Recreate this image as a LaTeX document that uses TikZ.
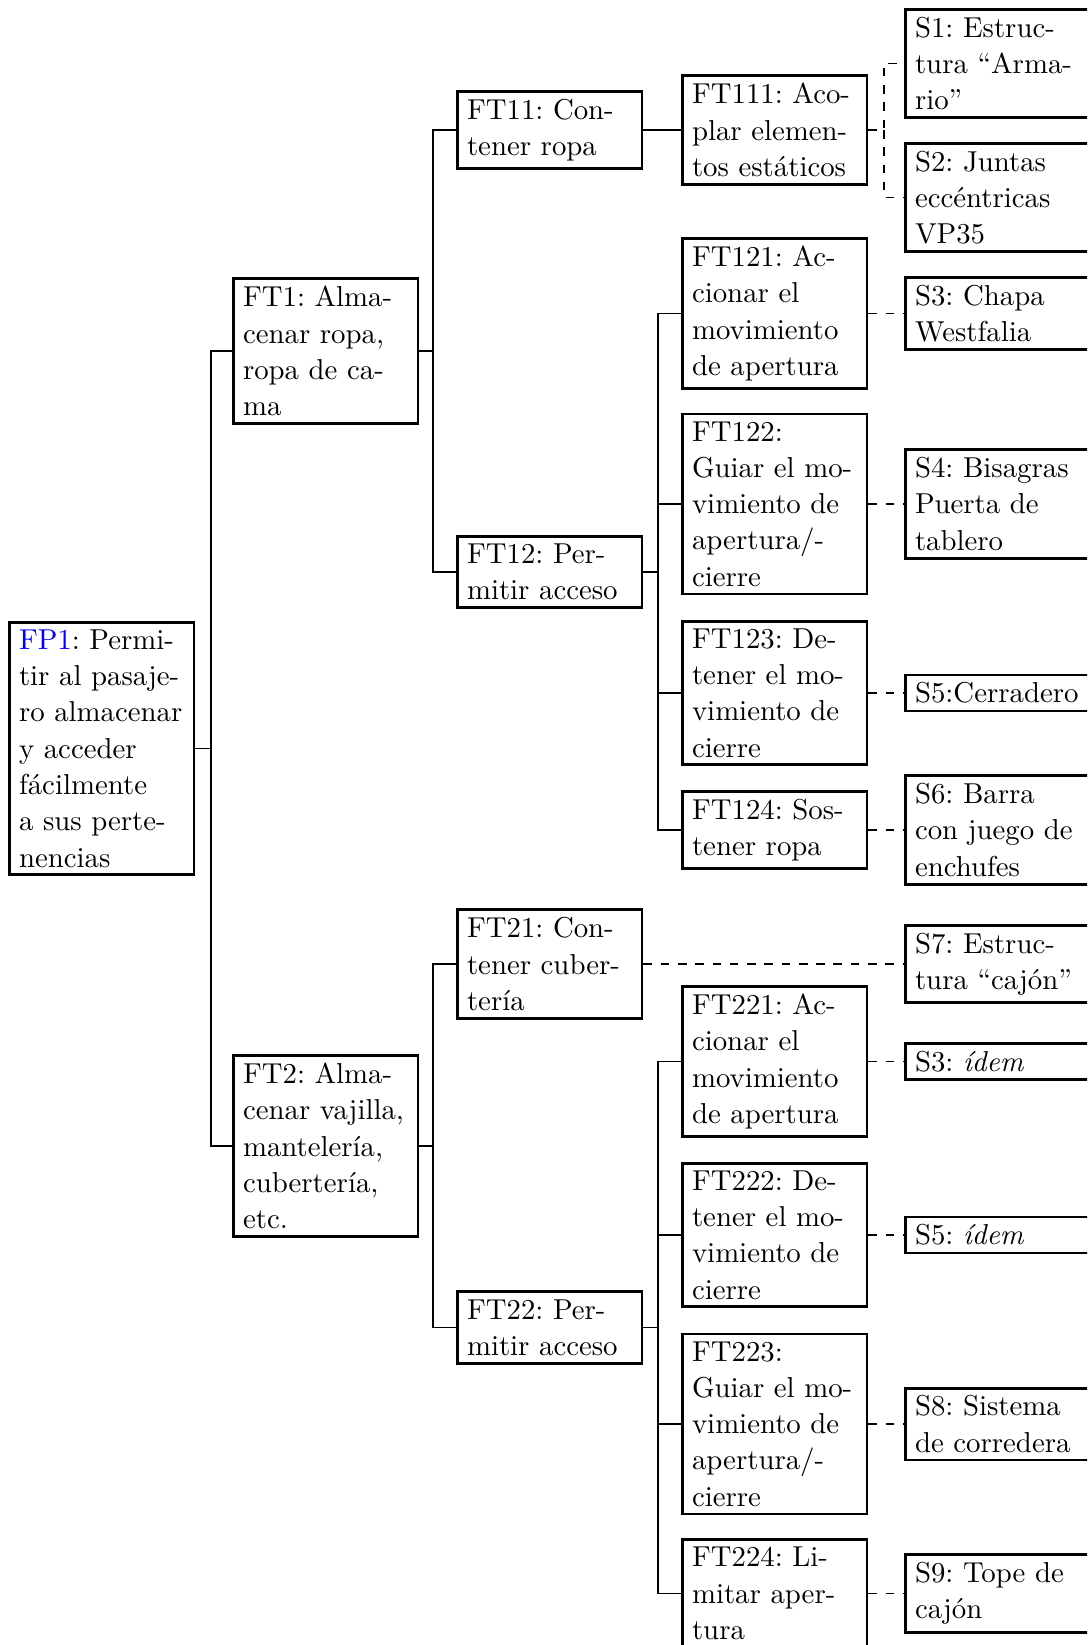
\documentclass[tikz,border=0pt]{standalone}
\begin{document}
\frenchspacing
\begin{tikzpicture}[x=0.34722pt,y=-0.34722pt]
\tikzset{
  box/.style={draw, line width=1pt, text width=57.4pt, align=left,
    inner xsep=3.33pt, inner ysep=2.6pt,
    font=\fontsize{10}{12.6}\selectfont\frenchspacing, anchor=west},
  link/.style={line width=0.4pt},
  dlink/.style={line width=0.4pt, dashed},
}
\useasboundingbox (0,0) rectangle (1087,1645);
\clip (0,0) rectangle (1087,1645);
\coordinate (t0) at (211,0);
\coordinate (t1) at (433,0);
\coordinate (t2) at (658,0);
\coordinate (td) at (884,0);
\coordinate (sc) at (904,0);

\node[box] (FP1) at (8,748.5) {\textcolor{blue}{FP1}: Permi-\\tir al pasaje-\\ro almacenar\\y acceder\\fácilmente\\a sus perte-\\nencias};
\node[box] (FT1) at (232,351) {FT1: Alma-\\cenar ropa,\\ropa de ca-\\ma};
\node[box] (FT2) at (232,1146) {FT2: Alma-\\cenar vajilla,\\mantelería,\\cubertería,\\etc.};
\node[box] (FT11) at (456,130) {FT11: Con-\\tener ropa};
\node[box] (FT12) at (456,572) {FT12: Per-\\mitir acceso};
\node[box] (FT21) at (456,964) {FT21: Con-\\tener cuber-\\tería};
\node[box] (FT22) at (456,1327.5) {FT22: Per-\\mitir acceso};

\node[box] (FT111) at (681,130) {FT111: Aco-\\plar elemen-\\tos estáticos};
\node[box] (FT121) at (681,313.5) {FT121: Ac-\\cionar el\\movimiento\\de apertura};
\node[box] (FT122) at (681,504) {FT122:\\Guiar el mo-\\vimiento de\\apertura/-\\cierre};
\node[box] (FT123) at (681,693) {FT123: De-\\tener el mo-\\vimiento de\\cierre};
\node[box] (FT124) at (681,830) {FT124: Sos-\\tener ropa};
\node[box] (FT221) at (681,1061.5) {FT221: Ac-\\cionar el\\movimiento\\de apertura};
\node[box] (FT222) at (681,1235) {FT222: De-\\tener el mo-\\vimiento de\\cierre};
\node[box] (FT223) at (681,1424) {FT223:\\Guiar el mo-\\vimiento de\\apertura/-\\cierre};
\node[box] (FT224) at (681,1593.5) {FT224: Li-\\mitar aper-\\tura};

\node[box] (S1) at (904,63.5) {S1: Estruc-\\tura “Arma-\\rio”};
\node[box] (S2) at (904,197.5) {S2: Juntas\\eccéntricas\\VP35};
\node[box] (S3) at (FT121.west -| sc) {S3: Chapa\\Westfalia};
\node[box] (S4) at (FT122.west -| sc) {S4: Bisagras\\Puerta de\\tablero};
\node[box] (S5) at (FT123.west -| sc) {S5:Cerradero};
\node[box] (S6) at (FT124.west -| sc) {S6: Barra\\con juego de\\enchufes};
\node[box] (S7) at (FT21.west -| sc) {S7: Estruc-\\tura “cajón”};
\node[box] (S3b) at (FT221.west -| sc) {S3: \textit{ídem}};
\node[box] (S5b) at (FT222.west -| sc) {S5: \textit{ídem}};
\node[box] (S8) at (FT223.west -| sc) {S8: Sistema\\de corredera};
\node[box] (S9) at (FT224.west -| sc) {S9: Tope de\\cajón};

% solid tree connectors
\draw[link] (FP1.east) -- (FP1.east -| t0) |- (FT1.west);
\draw[link] (FP1.east -| t0) |- (FT2.west);
\draw[link] (FT1.east) -- (FT1.east -| t1) |- (FT11.west);
\draw[link] (FT1.east -| t1) |- (FT12.west);
\draw[link] (FT2.east) -- (FT2.east -| t1) |- (FT21.west);
\draw[link] (FT2.east -| t1) |- (FT22.west);
\draw[link] (FT11.east) -- (FT111.west);
\draw[link] (FT12.east) -- (FT12.east -| t2) |- (FT121.west);
\draw[link] (FT12.east -| t2) |- (FT122.west);
\draw[link] (FT12.east -| t2) |- (FT123.west);
\draw[link] (FT12.east -| t2) |- (FT124.west);
\draw[link] (FT22.east) -- (FT22.east -| t2) |- (FT221.west);
\draw[link] (FT22.east -| t2) |- (FT222.west);
\draw[link] (FT22.east -| t2) |- (FT223.west);
\draw[link] (FT22.east -| t2) |- (FT224.west);

% dashed solution connectors
\draw[dlink] (FT111.east) -- (FT111.east -| td) |- (S1.west);
\draw[dlink] (FT111.east -| td) |- (S2.west);
\draw[dlink] (FT121.east) -- (S3.west);
\draw[dlink] (FT122.east) -- (S4.west);
\draw[dlink] (FT123.east) -- (S5.west);
\draw[dlink] (FT124.east) -- (S6.west);
\draw[dlink] (FT21.east) -- (S7.west);
\draw[dlink] (FT221.east) -- (S3b.west);
\draw[dlink] (FT222.east) -- (S5b.west);
\draw[dlink] (FT223.east) -- (S8.west);
\draw[dlink] (FT224.east) -- (S9.west);
\end{tikzpicture}
\end{document}
